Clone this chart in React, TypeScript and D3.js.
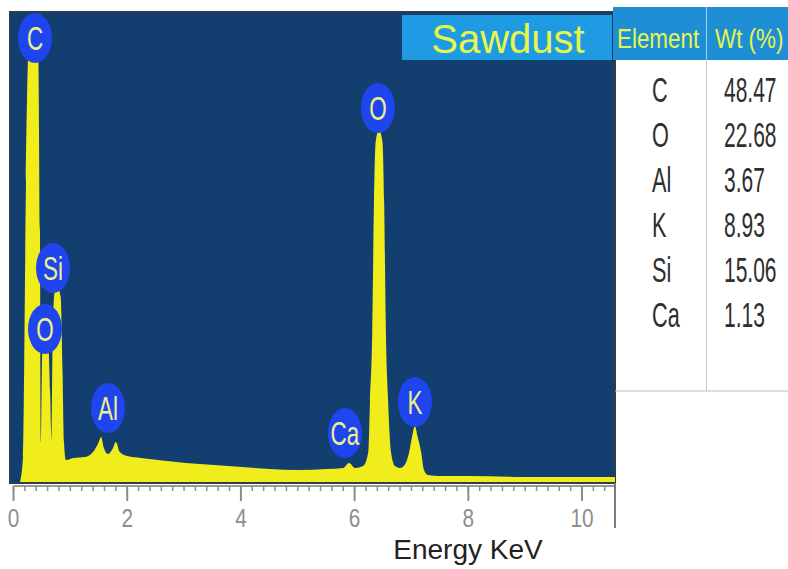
import React from 'react';
import * as d3 from 'd3';

// EDS spectrum (energy in keV, intensity in arbitrary counts)
const spectrumKeV = [
  0.114, 0.167, 0.22, 0.273, 0.352, 0.431, 0.466, 0.484, 0.505, 0.53, 0.572, 0.61, 0.645, 0.668,
  0.69, 0.73, 0.78, 0.83, 0.863, 0.888, 0.923, 1.05, 1.26, 1.4, 1.5, 1.54, 1.59, 1.66,
  1.75, 1.8, 1.87, 2.0, 2.24, 2.54, 3.03, 3.53, 4.02, 4.51, 5.0, 5.51, 5.8, 5.9,
  6.01, 6.15, 6.24, 6.27, 6.31, 6.34, 6.37, 6.43, 6.49, 6.52, 6.55, 6.59, 6.64,
  6.71, 6.8, 6.89, 6.96, 7.01, 7.06, 7.11, 7.17, 7.22, 7.29, 7.5, 7.98, 8.98,
  9.96, 10.58,
];
const spectrumCounts = [
  0, 25, 300, 445, 458, 445, 250, 40, 130, 142, 145, 140, 90, 40,
  150, 192, 194, 185, 110, 40, 22, 24, 25, 30, 40, 45, 34, 28,
  34, 40, 30, 26, 24, 22, 19, 17, 15, 13, 12, 13, 14, 19,
  14, 16, 30, 80, 150, 280, 340, 352, 340, 280, 150, 80, 30,
  16, 14, 18, 30, 45, 56, 45, 30, 12, 7, 6, 6, 5,
  5, 5,
];

// peak labels
const peakElements = ['C', 'Si', 'O', 'Al', 'O', 'Ca', 'K'];
const peakLabelKeV = [0.378, 0.695, 0.554, 1.662, 6.41, 5.83, 7.06];
const peakLabelCounts = [444, 214, 153, 74, 374, 49, 80];

// composition table
const tableElements = ['C', 'O', 'Al', 'K', 'Si', 'Ca'];
const tableWt = ['48.47', '22.68', '3.67', '8.93', '15.06', '1.13'];

const axisTicks = [0, 2, 4, 6, 8, 10];
const title = 'Sawdust';
const xLabel = 'Energy KeV';

const W = 788;
const H = 569;
const plot = { left: 10, top: 12, right: 615, bottom: 483 };

const FONT = 'Liberation Sans, Arial, sans-serif';

export default function App() {
  const x = d3.scaleLinear().domain([0, 10.58]).range([13.5, 615]);
  const y = d3.scaleLinear().domain([0, 470]).range([482, 12]);

  const pts: [number, number][] = spectrumKeV.map((k, i) => [k, spectrumCounts[i]]);
  const area = d3
    .area<[number, number]>()
    .x((d) => x(d[0]))
    .y0(y(0))
    .y1((d) => y(d[1]))
    .curve(d3.curveMonotoneX);

  const minorTicks = d3.range(0, 10.5, 0.2);
  const axisY = 486;

  const rowY = (i: number) => 102 + i * 45;

  return (
    <svg
      width={W}
      height={H}
      viewBox={`0 0 ${W} ${H}`}
      style={{ position: 'absolute', left: 0, top: 0, display: 'block', background: '#fff' }}
    >
      <defs>
        <clipPath id="plotClip">
          <rect x={plot.left} y={plot.top} width={plot.right - plot.left} height={plot.bottom - plot.top} />
        </clipPath>
      </defs>

      {/* plot background */}
      <rect
        x={plot.left}
        y={plot.top}
        width={plot.right - plot.left}
        height={plot.bottom - plot.top}
        fill="#123e70"
        stroke="#2c3d52"
        strokeWidth={2}
      />

      {/* spectrum */}
      <g clipPath="url(#plotClip)">
        <path d={area(pts) || ''} fill="#f1ec1c" />
      </g>

      {/* peak labels */}
      {peakElements.map((el, i) => {
        const cx = x(peakLabelKeV[i]);
        const cy = y(peakLabelCounts[i]);
        return (
          <g key={'pk' + i}>
            <ellipse cx={cx} cy={cy} rx={17} ry={25} fill="#1f45ef" />
            <text
              transform={`translate(${cx},${cy + 12}) scale(0.66,1)`}
              textAnchor="middle"
              fontFamily={FONT}
              fontSize={34}
              fill="#eef08a"
            >
              {el}
            </text>
          </g>
        );
      })}

      {/* title banner */}
      <rect x={402} y={15} width={210} height={45} fill="#1e9be3" />
      <text x={508} y={53} textAnchor="middle" fontFamily={FONT} fontSize={40} fill="#e8f54a">
        {title}
      </text>

      {/* table */}
      <rect x={613} y={7} width={175} height={53} fill="#1e8fd5" />
      <line x1={706.5} y1={7} x2={706.5} y2={60} stroke="#9fd0ee" strokeWidth={1} />
      <text
        transform="translate(617,48) scale(0.8,1)"
        fontFamily={FONT}
        fontSize={28}
        fill="#e8f54a"
      >
        Element
      </text>
      <text
        transform="translate(715,48) scale(0.8,1)"
        fontFamily={FONT}
        fontSize={28}
        fill="#e8f54a"
      >
        Wt (%)
      </text>
      <line x1={706.5} y1={60} x2={706.5} y2={391} stroke="#c8c8c8" strokeWidth={1} />
      <line x1={615} y1={391} x2={788} y2={391} stroke="#c0c0c0" strokeWidth={1} />
      {tableElements.map((el, i) => (
        <g key={'row' + i}>
          <text
            transform={`translate(652,${rowY(i)}) scale(0.62,1)`}
            fontFamily={FONT}
            fontSize={35}
            fill="#2e2e2e"
          >
            {el}
          </text>
          <text
            transform={`translate(724,${rowY(i)}) scale(0.6,1)`}
            fontFamily={FONT}
            fontSize={35}
            fill="#2e2e2e"
          >
            {tableWt[i]}
          </text>
        </g>
      ))}

      {/* x axis */}
      <line x1={x(0)} y1={axisY} x2={plot.right} y2={axisY} stroke="#9a9a9a" strokeWidth={2} />
      {minorTicks.map((t, i) => (
        <line key={'mt' + i} x1={x(t)} y1={axisY} x2={x(t)} y2={axisY + 5} stroke="#8c8c8c" strokeWidth={1.5} />
      ))}
      {axisTicks.map((t) => (
        <g key={'t' + t}>
          <line x1={x(t)} y1={axisY} x2={x(t)} y2={axisY + 15} stroke="#8c8c8c" strokeWidth={2} />
          <text
            transform={`translate(${x(t)},527) scale(0.8,1)`}
            textAnchor="middle"
            fontFamily={FONT}
            fontSize={26}
            fill="#8e8e8e"
          >
            {t}
          </text>
        </g>
      ))}
      <line x1={615} y1={plot.bottom} x2={615} y2={528} stroke="#7a7a7a" strokeWidth={2} />

      <text x={468} y={559} textAnchor="middle" fontFamily={FONT} fontSize={28} fill="#222">
        {xLabel}
      </text>
    </svg>
  );
}
